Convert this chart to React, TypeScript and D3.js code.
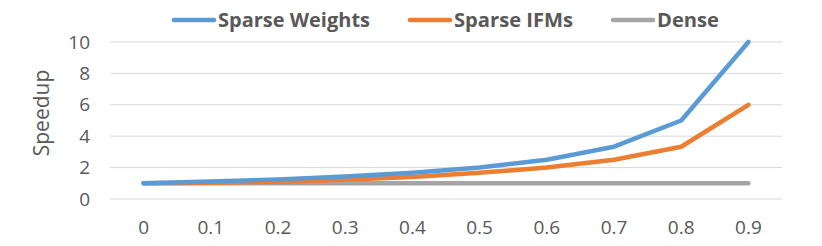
import { scaleBand, scaleLinear, line } from 'd3';

const categories = ['0', '0.1', '0.2', '0.3', '0.4', '0.5', '0.6', '0.7', '0.8', '0.9'];
const sparseWeights = [1, 1.11, 1.25, 1.43, 1.67, 2, 2.5, 3.33, 5, 10];
const sparseIFMs = [1, 1.03, 1.1, 1.22, 1.4, 1.67, 2, 2.5, 3.33, 6];
const dense = [1, 1, 1, 1, 1, 1, 1, 1, 1, 1];
const yTicks = [0, 2, 4, 6, 8, 10];

const series = [
  { name: 'Sparse Weights', values: sparseWeights, color: '#5b9bd5' },
  { name: 'Sparse IFMs', values: sparseIFMs, color: '#ed7d31' },
  { name: 'Dense', values: dense, color: '#a5a5a5' },
];

const width = 822;
const height = 246;
const left = 110;
const right = 782;
const top = 42;
const bottom = 199;
const font = '"Open Sans", sans-serif';
const textColor = '#595959';

// legend: start of swatch, and width of its text
const legendX = [172, 408, 611];
const legendTextW = [152, 119, 62];

export default function App() {
  const x = scaleBand<string>().domain(categories).range([left, right]);
  const y = scaleLinear().domain([0, 10]).range([bottom, top]);
  const cx = (c: string) => (x(c) ?? 0) + x.bandwidth() / 2;

  const path = line<number>()
    .x((_, i) => cx(categories[i]))
    .y((d) => y(d));

  return (
    <svg
      width={width}
      height={height}
      style={{ position: 'absolute', left: 0, top: 0, background: '#fff' }}
      fontFamily={font}
    >
      {yTicks.map((t) => (
        <g key={t}>
          <line x1={left} x2={right} y1={y(t)} y2={y(t)} stroke="#d9d9d9" strokeWidth={1} />
          <text x={90} y={y(t)} dy="0.35em" textAnchor="end" fontSize={19} fill={textColor}>
            {t}
          </text>
        </g>
      ))}
      {categories.map((c) => (
        <text key={c} x={cx(c)} y={227} dy="0.35em" textAnchor="middle" fontSize={19} fill={textColor}>
          {c}
        </text>
      ))}
      <text
        transform={`translate(42, 113) rotate(-90)`}
        textAnchor="middle"
        dy="0.35em"
        fontSize={21}
        fill={textColor}
      >
        Speedup
      </text>
      {[...series].reverse().map((s) => (
        <path
          key={s.name}
          d={path(s.values) ?? ''}
          fill="none"
          stroke={s.color}
          strokeWidth={4.5}
          strokeLinecap="round"
          strokeLinejoin="round"
        />
      ))}
      {series.map((s, i) => (
        <g key={s.name} transform={`translate(${legendX[i]}, 20)`}>
          <line x1={2} x2={42} y1={0} y2={0} stroke={s.color} strokeWidth={4.5} strokeLinecap="round" />
          <text
            x={46}
            y={0}
            dy="0.35em"
            fontSize={20}
            fontWeight="bold"
            fill={textColor}
            textLength={legendTextW[i]}
            lengthAdjust="spacingAndGlyphs"
          >
            {s.name}
          </text>
        </g>
      ))}
    </svg>
  );
}
